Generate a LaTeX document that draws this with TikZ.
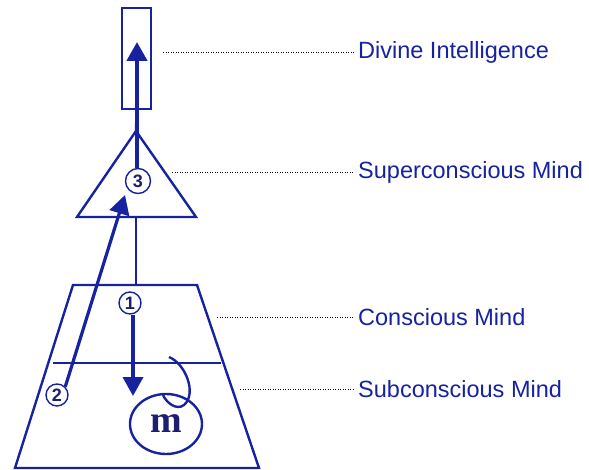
\documentclass[tikz,border=0pt]{standalone}
\usepackage{fontspec}
\setmainfont{Liberation Sans}
\newfontfamily\mfont{Liberation Serif}
\usetikzlibrary{positioning,arrows.meta,shapes.geometric}
\definecolor{mindBlue}{RGB}{22, 34, 160}
\definecolor{mindNavy}{RGB}{30, 30, 110}

\begin{document}
\begin{tikzpicture}[x=1pt, y=-1pt,
    outline/.style={draw=mindBlue, line width=2.4pt},
    numcircle/.style={circle, draw=mindBlue, line width=1.4pt, fill=white, inner sep=0pt, minimum size=22pt, text=mindNavy, font=\fontsize{18}{18}\selectfont\bfseries},
    flow/.style={draw=mindBlue, line width=3.6pt, -{Triangle[length=19pt, width=20pt]}},
    lbl/.style={anchor=west, inner sep=0pt, text=mindBlue, font=\fontsize{23.5}{28}\selectfont},
    leader/.style={draw=black, line width=0.9pt, dash pattern=on 0.9pt off 1.6pt}]
    \useasboundingbox (0,0) rectangle (589,470);

    % shapes
    \node[outline, minimum width=29pt, minimum height=101pt, inner sep=0pt] (spirit) at (136.5,58.5) {};
    \coordinate (apex) at (136,131);
    \coordinate (tribase) at (136,217);
    \coordinate (traptop) at (136,285);
    \draw[outline] (apex) -- (196,217) -- (77,217) -- cycle;
    \draw[outline] (73,285) -- (197,285) -- (259,468) -- (15,468) -- cycle;
    \draw[outline] (53,363) -- (221,363);
    \draw[outline] (spirit.south) -- (apex);
    \draw[outline] (tribase) -- (traptop);

    % m and its curl
    \node[ellipse, outline, minimum width=72pt, minimum height=60pt, inner sep=0pt] (mind) at (166,424) {};
    \node[text=mindNavy, font=\mfont\fontsize{38}{38}\selectfont\bfseries] at (mind.center) {m};
    \draw[outline] (169,357) .. controls (186,364) and (197,394) .. (184,405)
                   .. controls (176,411) and (166,402) .. (163,395);

    % numbered circles and arrows
    \node[numcircle] (c1) at (130,303) {1};
    \node[numcircle] (c2) at (57,395) {2};
    \node[numcircle, minimum size=25pt] (c3) at (138,181) {3};
    \coordinate (tip1) at (133,396);
    \coordinate (tip2) at (125,195);
    \coordinate (tip3) at (137,42);
    \draw[flow] (c1.south -| tip1) -- (tip1);
    \draw[flow, line width=3.2pt] (c2.north east) -- (tip2);
    \draw[flow, line width=4.4pt] (c3.north -| tip3) -- (tip3);

    % labels
    \node[lbl] (divine) at (358,52) {Divine Intelligence};
    \node[lbl] (super) at (358,172) {Superconscious Mind};
    \node[lbl] (conscious) at (358,317) {Conscious Mind};
    \node[lbl] (subcon) at (358,389) {Subconscious Mind};
    \coordinate (d0) at (163,52);
    \coordinate (s0) at (172,172);
    \coordinate (c0) at (217,317);
    \coordinate (u0) at (240,389);
    \draw[leader] (d0) -- ([xshift=-4pt]divine.west);
    \draw[leader] (s0) -- ([xshift=-4pt]super.west);
    \draw[leader] (c0) -- ([xshift=-4pt]conscious.west);
    \draw[leader] (u0) -- ([xshift=-4pt]subcon.west);
\end{tikzpicture}
\end{document}
